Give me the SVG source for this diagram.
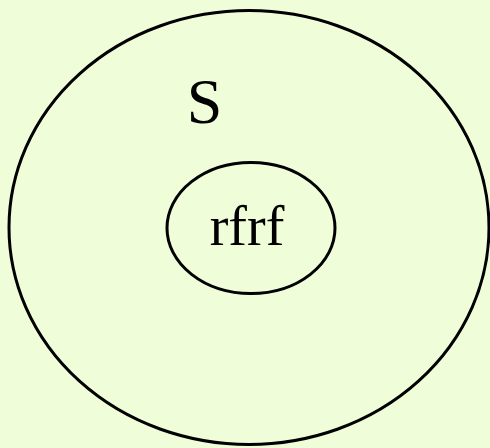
<svg xmlns="http://www.w3.org/2000/svg" width="490" height="448" viewBox="0 0 490 448">
<style>
.sh{fill:none;stroke:#000;stroke-width:3}
.t{font-family:"Liberation Serif","Times New Roman",serif;fill:#000;text-anchor:middle}
</style>
<rect width="490" height="448" fill="#f0fdd9"/>
<g id="outer">
<ellipse class="sh" cx="249" cy="227.5" rx="240" ry="217"/>
<text class="t" x="204.5" y="123" font-size="64">S</text>
</g>
<g id="inner">
<ellipse class="sh" cx="251" cy="228" rx="84" ry="65.5"/>
<text class="t" x="247" y="245" font-size="56">rfrf</text>
</g>
<g id="connectors"/>
</svg>
